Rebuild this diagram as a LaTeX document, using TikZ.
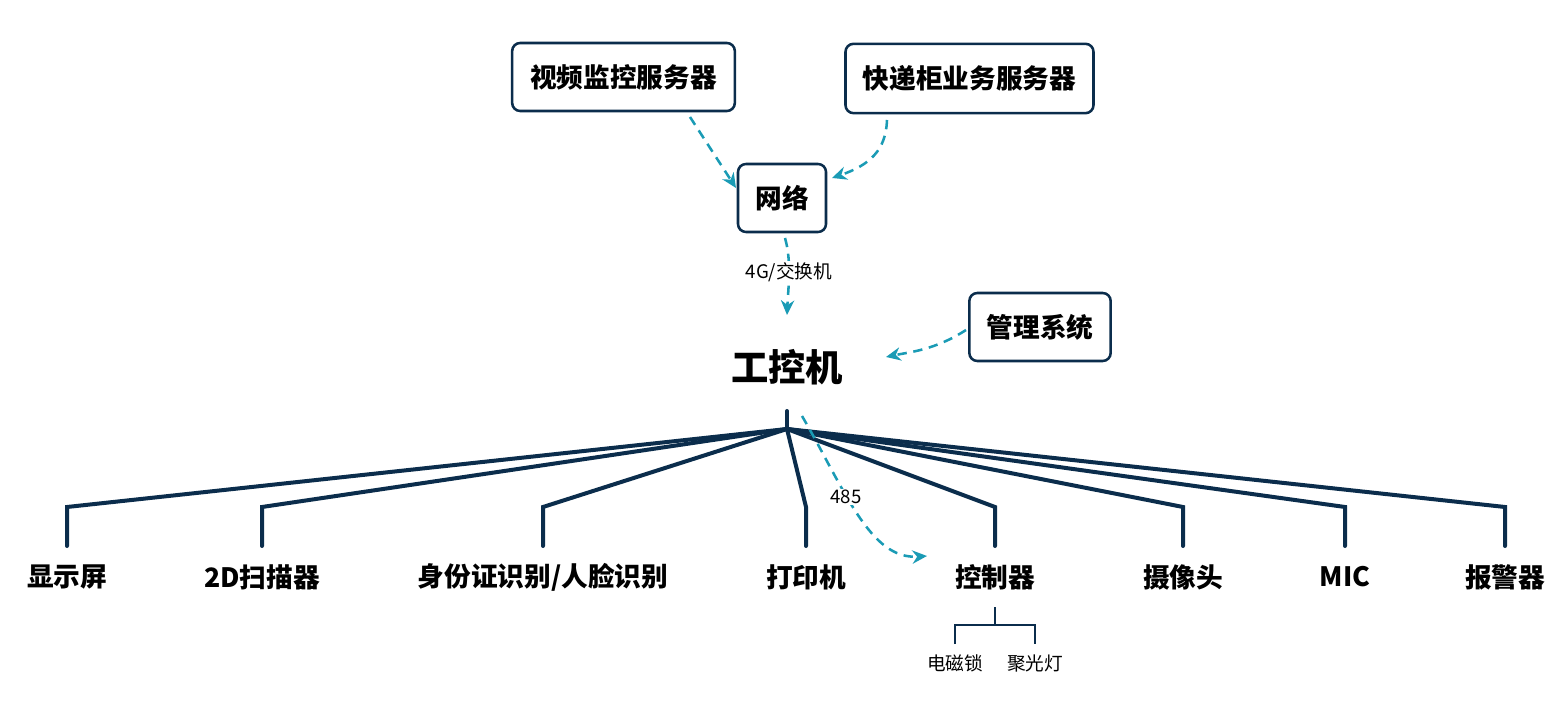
\documentclass[tikz,border=0pt]{standalone}
\usepackage{fontspec}
\setmainfont{Noto Sans CJK SC}
\usetikzlibrary{arrows.meta}
\definecolor{navy}{HTML}{0B2D4C}
\definecolor{teal}{HTML}{1A9BB5}
\tikzset{
  box/.style={draw=navy, line width=1.9pt, rounded corners=6pt, fill=white, inner sep=0pt, font=\fontsize{20}{24}\selectfont\bfseries},
  lab/.style={inner sep=0pt, font=\fontsize{20}{24}\selectfont\bfseries},
  small/.style={inner sep=1pt, font=\fontsize{14}{16}\selectfont},
  tree/.style={draw=navy, line width=3pt, line cap=round, line join=miter},
  sub/.style={draw=navy, line width=2.2pt},
  flow/.style={draw=teal, line width=1.9pt, dash pattern=on 7pt off 5pt, -{Stealth[length=11pt,width=10pt]}},
}
\begin{document}
\begin{tikzpicture}[x=0.75pt,y=-0.75pt]
\useasboundingbox (0,0) rectangle (1567,705);
% boxes
\node[box, minimum width=167pt, minimum height=51pt] (vs) at (623.5,77) {视频监控服务器};
\node[box, minimum width=186pt, minimum height=52pt] (ks) at (969.5,78.5) {快递柜业务服务器};
\node[box, minimum width=66pt, minimum height=51pt] (net) at (782,198) {网络};
\node[box, minimum width=106pt, minimum height=51pt] (mg) at (1040,327) {管理系统};
\node[inner sep=0pt, font=\fontsize{28}{32}\selectfont\bfseries] (ipc) at (787,367) {工控机};
% tree
\coordinate (top) at (787,411);
\coordinate (hub) at (787,429);
\draw[tree] (top) -- (hub);
\foreach \n/\x/\t in {d1/67/{显示屏}, d2/262/{2D扫描器}, d3/543/{身份证识别/人脸识别}, d4/806/{打印机}, d5/995/{控制器}, d6/1183/{摄像头}, d7/1345/{MIC}, d8/1505/{报警器}}{
  \coordinate (\n e) at (\x,507);
  \coordinate (\n b) at (\x,546);
  \node[lab] (\n) at (\x,577) {\t};
  \draw[tree] (hub) -- (\n e) -- (\n b);
}
% controller subtree
\coordinate (c0) at (995,607);
\coordinate (c1) at (995,625);
\coordinate (cl) at (955,625);
\coordinate (cr) at (1035,625);
\coordinate (clb) at (955,644);
\coordinate (crb) at (1035,644);
\node[small] (lock) at (955,663) {电磁锁};
\node[small] (lamp) at (1035,663) {聚光灯};
\draw[sub] (c0) -- (c1);
\draw[sub] (clb) -- (cl) -- (cr) -- (crb);
% flows
\draw[flow] (690,117) -- (736,188);
\draw[flow] (887,120) .. controls (886,150) and (870,165) .. (832,178);
\draw[flow] (785,238) .. controls (792,262) and (788,290) .. (787,315);
\node[small, fill=white] (l4g) at (789,272) {4G/交换机};
\draw[flow] (966,330) .. controls (935,350) and (910,352) .. (886,357);
\draw[flow] (802,416) .. controls (845,490) and (870,560) .. (927,556);
\node[small, fill=white, inner sep=0.5pt] (l485) at (846,497) {485};
\end{tikzpicture}
\end{document}
